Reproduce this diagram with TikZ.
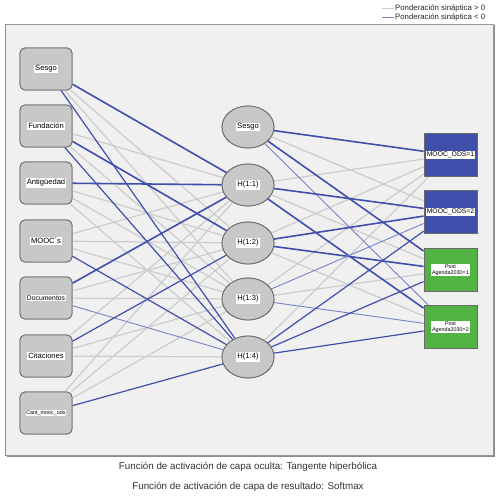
\documentclass[tikz,border=0pt]{standalone}
\usepackage{fontspec}
\setmainfont{Liberation Sans}
\usetikzlibrary{shapes.geometric}
\definecolor{negblue}{RGB}{64,78,172}
\definecolor{lblue}{RGB}{120,130,200}
\definecolor{posgray}{RGB}{204,204,204}
\definecolor{nodegray}{RGB}{200,200,200}
\definecolor{bordergray}{RGB}{105,105,105}
\definecolor{panel}{RGB}{240,240,240}
\definecolor{outgreen}{RGB}{82,178,68}
\definecolor{framegray}{RGB}{150,150,150}
\tikzset{
  inbox/.style={draw=bordergray, fill=nodegray, rounded corners=5pt, minimum width=52pt, minimum height=42pt, line width=0.8pt, inner sep=0pt},
  hidnode/.style={ellipse, draw=bordergray, fill=nodegray, minimum width=52pt, minimum height=42pt, line width=0.8pt, inner sep=0pt},
  outnode/.style={draw=bordergray, minimum width=53pt, minimum height=43pt, line width=0.8pt, inner sep=0pt},
  lab/.style={fill=white, inner sep=1pt, font=\fontsize{7.6}{8}\selectfont},
  tinylab/.style={fill=white, inner sep=0.8pt, font=\fontsize{5.4}{5.8}\selectfont, align=center},
  outlab/.style={fill=white, inner sep=0.5pt, font=\fontsize{6.8}{7}\selectfont, align=center},
  pw/.style={draw=posgray, line width=1.2pt},
  nthick/.style={draw=negblue, line width=1.6pt},
  nmed/.style={draw=negblue, line width=1.2pt},
  nlight/.style={draw=lblue, line width=0.9pt},
  captext/.style={font=\fontsize{9.8}{11}\selectfont, text=black!80},
  legtext/.style={anchor=west, inner sep=0pt, font=\fontsize{7.8}{9}\selectfont, text=black!85}
}
\begin{document}
\begin{tikzpicture}[x=1pt,y=-1pt]
\useasboundingbox (0,0) rectangle (500,502);
\fill[white] (0,0) rectangle (500,502);
% frame
\fill[black!45] (6.5,25.5) rectangle (495,456.5);
\draw[framegray, fill=panel, line width=0.8pt] (5,24) rectangle (493.5,455);
% legend
\coordinate (lg1a) at (382,8.5); \coordinate (lg1b) at (394,8.5);
\coordinate (lg2a) at (382,17.5); \coordinate (lg2b) at (394,17.5);
\draw[posgray, line width=1.5pt] (lg1a) -- (lg1b);
\draw[lblue, line width=1.5pt] (lg2a) -- (lg2b);
\node[legtext] (leg1) at (395,8.5) {Ponderación sináptica > 0};
\node[legtext] (leg2) at (395,17.5) {Ponderación sináptica < 0};
% nodes (positions)
\node[inbox] (i0) at (46,69) {};
\node[inbox] (i1) at (46,126) {};
\node[inbox] (i2) at (46,183) {};
\node[inbox] (i3) at (46,241) {};
\node[inbox] (i4) at (46,298) {};
\node[inbox] (i5) at (46,356) {};
\node[inbox] (i6) at (46,413) {};
\node[hidnode] (h0) at (248,127) {};
\node[hidnode] (h1) at (248,185) {};
\node[hidnode] (h2) at (248,243) {};
\node[hidnode] (h3) at (248,299) {};
\node[hidnode] (h4) at (248,357) {};
\node[outnode, fill=negblue] (o1) at (450.5,155) {};
\node[outnode, fill=negblue] (o2) at (450.5,212) {};
\node[outnode, fill=outgreen] (o3) at (450.5,270) {};
\node[outnode, fill=outgreen] (o4) at (450.5,327) {};
% positive weights (gray)
\draw[pw] (i0) -- (h2); \draw[pw] (i0) -- (h3);
\draw[pw] (i1) -- (h1); \draw[pw] (i1) -- (h3);
\draw[pw] (i2) -- (h2); \draw[pw] (i2) -- (h3); \draw[pw] (i2) -- (h4);
\draw[pw] (i3) -- (h1); \draw[pw] (i3) -- (h2); \draw[pw] (i3) -- (h3);
\draw[pw] (i4) -- (h2); \draw[pw] (i4) -- (h3);
\draw[pw] (i5) -- (h1); \draw[pw] (i5) -- (h3); \draw[pw] (i5) -- (h4);
\draw[pw] (i6) -- (h1); \draw[pw] (i6) -- (h2); \draw[pw] (i6) -- (h3);
\draw[pw] (h0) -- (o2);
\draw[pw] (h1) -- (o1); \draw[pw] (h1) -- (o3);
\draw[pw] (h2) -- (o1); \draw[pw] (h2) -- (o4);
\draw[pw] (h3) -- (o1); \draw[pw] (h3) -- (o3);
\draw[pw] (h4) -- (o1);
% negative weights (blue)
\draw[nthick] (i0) -- (h1); \draw[nmed] (i0) -- (h4);
\draw[nthick] (i1) -- (h2); \draw[nmed] (i1) -- (h4);
\draw[nthick] (i2) -- (h1);
\draw[nmed] (i3) -- (h4);
\draw[nthick] (i4) -- (h1); \draw[nlight] (i4) -- (h4);
\draw[nmed] (i5) -- (h2);
\draw[nmed] (i6) -- (h4);
\draw[nthick] (h0) -- (o1); \draw[nthick] (h0) -- (o3); \draw[nlight] (h0) -- (o4);
\draw[nthick] (h1) -- (o2); \draw[nthick] (h1) -- (o4);
\draw[nthick] (h2) -- (o2); \draw[nthick] (h2) -- (o3);
\draw[nlight] (h3) -- (o2); \draw[nlight] (h3) -- (o4);
\draw[nmed] (h4) -- (o2); \draw[nmed] (h4) -- (o3); \draw[nmed] (h4) -- (o4);
% redraw nodes on top with labels
\node[inbox] (j0) at (i0) {}; \node[lab] (l0) at (i0) {Sesgo};
\node[inbox] (j1) at (i1) {}; \node[lab] (l1) at (i1) {Fundación};
\node[inbox] (j2) at (i2) {}; \node[lab] (l2) at (i2) {Antigüedad};
\node[inbox] (j3) at (i3) {}; \node[lab] (l3) at (i3) {MOOC´s};
\node[inbox] (j4) at (i4) {}; \node[lab, font=\fontsize{6.8}{7}\selectfont] (l4) at (i4) {Documentos};
\node[inbox] (j5) at (i5) {}; \node[lab] (l5) at (i5) {Citaciones};
\node[inbox] (j6) at (i6) {}; \node[tinylab] (l6) at (i6) {Cant\_mooc\_ods};
\node[hidnode] (g0) at (h0) {}; \node[lab] (m0) at (h0) {Sesgo};
\node[hidnode] (g1) at (h1) {}; \node[lab] (m1) at (h1) {H(1:1)};
\node[hidnode] (g2) at (h2) {}; \node[lab] (m2) at (h2) {H(1:2)};
\node[hidnode] (g3) at (h3) {}; \node[lab] (m3) at (h3) {H(1:3)};
\node[hidnode] (g4) at (h4) {}; \node[lab] (m4) at (h4) {H(1:4)};
\node[outnode, fill=negblue] (p1) at (o1) {}; \node[outlab] (q1) at (o1) {MOOC\_ODS=1};
\node[outnode, fill=negblue] (p2) at (o2) {}; \node[outlab] (q2) at (o2) {MOOC\_ODS=2};
\node[outnode, fill=outgreen] (p3) at (o3) {}; \node[tinylab] (q3) at (o3) {Post\\Agenda2030=1};
\node[outnode, fill=outgreen] (p4) at (o4) {}; \node[tinylab] (q4) at (o4) {Post\\Agenda2030=2};
% captions
\node[captext] (c1) at (248,467) {Función de activación de capa oculta: Tangente hiperbólica};
\node[captext] (c2) at (248,487) {Función de activación de capa de resultado: Softmax};
\end{tikzpicture}
\end{document}
